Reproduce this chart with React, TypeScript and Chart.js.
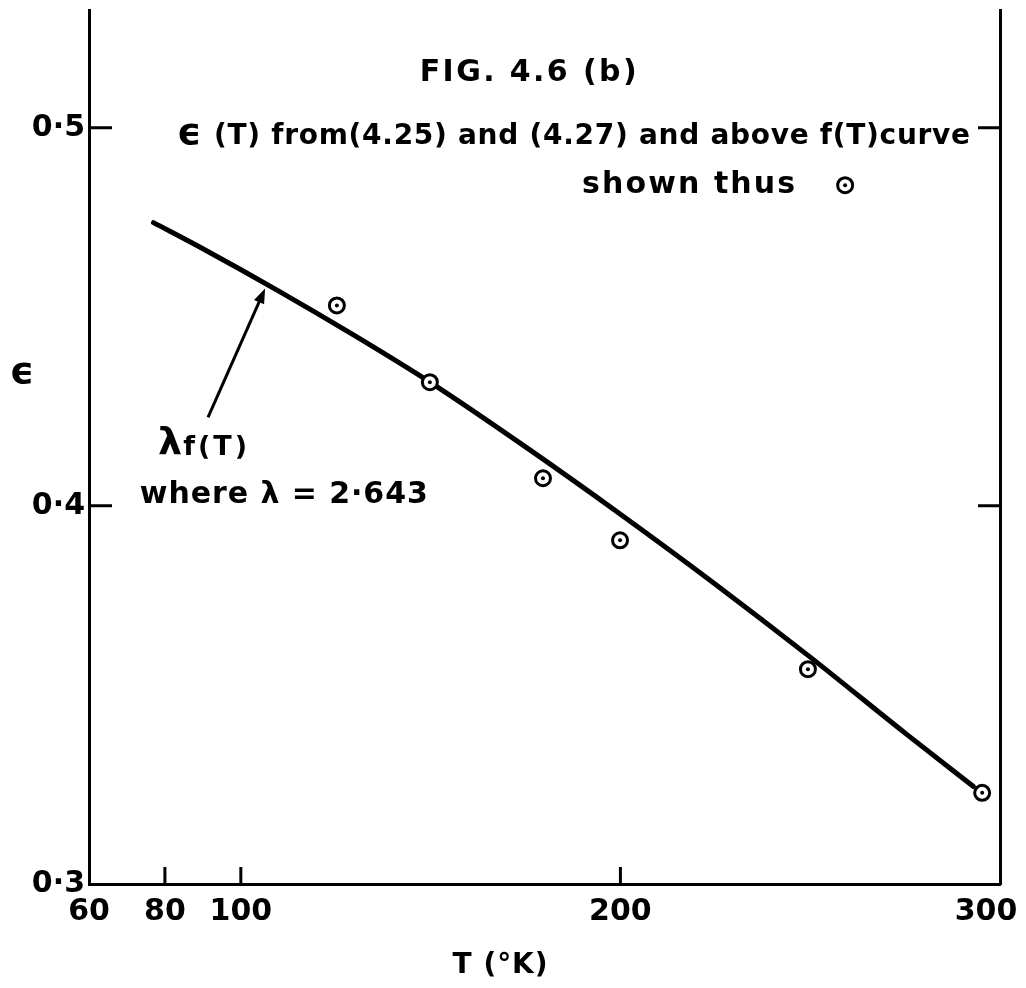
import React, { useEffect, useRef } from "react";
import { Chart, registerables } from "chart.js";

Chart.register(...registerables);

// ---------- data ----------
const xRange = [60, 300];
const yRange = [0.3, 0.531];
const xTickValues = [60, 80, 100, 200, 300];
const yTickValues = [0.3, 0.4, 0.5];
const innerXTicks = [80, 100, 200];
const innerYTicks = [0.4, 0.5];

// circled points: epsilon(T) from (4.25) and (4.27)
const pointT = [125.3, 149.8, 179.6, 199.9, 249.4, 295.3];
const pointEps = [0.453, 0.4327, 0.4073, 0.3909, 0.3568, 0.3241];

// lambda f(T) curve
const curveT = [77, 90, 110, 130, 150, 175, 200, 225, 250, 275, 293];
const curveEps = [0.4749, 0.468, 0.4568, 0.445, 0.4326, 0.4156, 0.3978, 0.3793, 0.36, 0.3399, 0.3258];

// ---------- text ----------
const titleText = "FIG. 4.6 (b)";
const epsSymbol = "ϵ";
const noteLine1 = " (T) from(4.25) and (4.27) and above f(T)curve";
const noteLine2 = "shown thus";
const lambdaSymbol = "λ";
const lambdaFn = "f(T)";
const lambdaValue = "where λ = 2·643";
const yTitle = "ϵ";
const xTitle = "T (°K)";

const FONT = '"DejaVu Sans"';
const INK = "#000";
const MARK_R = 7.5;
const MARK_W = 3;
const DOT_R = 2;

function putText(
  ctx: CanvasRenderingContext2D,
  text: string,
  px: number,
  py: number,
  size: number,
  align: CanvasTextAlign,
  width?: number,
  weight = "bold"
): number {
  ctx.font = `${weight} ${size}px ${FONT}`;
  ctx.textAlign = align;
  ctx.textBaseline = "middle";
  ctx.fillStyle = INK;
  let ls = 0;
  (ctx as any).letterSpacing = "0px";
  const w = ctx.measureText(text).width;
  if (width) {
    const n = Array.from(text).length;
    ls = (width - w) / Math.max(n - 1, 1);
  }
  (ctx as any).letterSpacing = `${ls}px`;
  const dx = align === "center" ? ls / 2 : 0;
  ctx.fillText(text, px + dx, py);
  (ctx as any).letterSpacing = "0px";
  return width || w;
}

function drawMarker(ctx: CanvasRenderingContext2D, px: number, py: number) {
  ctx.beginPath();
  ctx.arc(px, py, MARK_R, 0, Math.PI * 2);
  ctx.fillStyle = "#fff";
  ctx.fill();
  ctx.lineWidth = MARK_W;
  ctx.strokeStyle = INK;
  ctx.stroke();
  ctx.beginPath();
  ctx.arc(px, py, DOT_R, 0, Math.PI * 2);
  ctx.fillStyle = INK;
  ctx.fill();
}

const decorPlugin = {
  id: "decor",
  beforeDraw(chart: any) {
    // pull the last x label ("300") back inside the page, as in the figure
    const xs = chart.scales.x;
    const items = xs.getLabelItems ? xs.getLabelItems() : null;
    if (items && items.length) {
      const last = items[items.length - 1];
      const tr = last.options.translation;
      if (!last._shifted) {
        last.options.translation = [tr[0] - 14, tr[1]];
        last._shifted = true;
      }
    }
  },
  afterDraw(chart: any) {
    const { ctx, chartArea } = chart;
    const x = chart.scales.x;
    const y = chart.scales.y;
    const X = (v: number) => x.getPixelForValue(v);
    const Y = (v: number) => y.getPixelForValue(v);
    ctx.save();

    // inward tick marks
    ctx.strokeStyle = INK;
    ctx.lineWidth = 3;
    ctx.beginPath();
    innerYTicks.forEach((v) => {
      const py = Y(v);
      ctx.moveTo(chartArea.left, py);
      ctx.lineTo(chartArea.left + 23, py);
      ctx.moveTo(chartArea.right - 22, py);
      ctx.lineTo(chartArea.right, py);
    });
    innerXTicks.forEach((v) => {
      const px = X(v);
      ctx.moveTo(px, chartArea.bottom);
      ctx.lineTo(px, chartArea.bottom - 17);
    });
    ctx.stroke();

    // title + note
    putText(ctx, titleText, X(175.7), Y(0.5144), 30, "center", 217);
    const ew = putText(ctx, epsSymbol, X(83.2), Y(0.4982), 38, "left");
    const l1x = X(83.2) + ew + 2;
    putText(ctx, noteLine1, l1x, Y(0.4977), 28, "left", X(292.1) - l1x);
    putText(ctx, noteLine2, X(189.9), Y(0.4848), 30, "left", 213);
    drawMarker(ctx, X(259.2), Y(0.4848));

    // lambda f(T)
    const lw = putText(ctx, lambdaSymbol, X(78.2), Y(0.4163), 38, "left");
    putText(ctx, lambdaFn, X(78.2) + lw + 1, Y(0.4152), 27, "left", 64);
    putText(ctx, lambdaValue, X(73.4), Y(0.4028), 30, "left", 288);

    // axis titles
    putText(ctx, yTitle, X(42.35), Y(0.4352), 38, "center");
    putText(ctx, xTitle, X(168.3), Y(0.2783), 28, "center", 95);

    // arrow
    const tx = X(91.35), ty = Y(0.4234);
    const hx = X(106.4), hy = Y(0.4575);
    const ang = Math.atan2(hy - ty, hx - tx);
    const L = 15, W = 5.5;
    ctx.beginPath();
    ctx.lineWidth = 3;
    ctx.strokeStyle = INK;
    ctx.moveTo(tx, ty);
    ctx.lineTo(hx - Math.cos(ang) * L * 0.8, hy - Math.sin(ang) * L * 0.8);
    ctx.stroke();
    ctx.beginPath();
    ctx.moveTo(hx, hy);
    ctx.lineTo(hx - Math.cos(ang) * L - Math.sin(ang) * W, hy - Math.sin(ang) * L + Math.cos(ang) * W);
    ctx.lineTo(hx - Math.cos(ang) * L + Math.sin(ang) * W, hy - Math.sin(ang) * L - Math.cos(ang) * W);
    ctx.closePath();
    ctx.fillStyle = INK;
    ctx.fill();

    ctx.restore();
  },
};

export default function App() {
  const ref = useRef<HTMLCanvasElement | null>(null);

  useEffect(() => {
    if (!ref.current) return;
    Chart.defaults.font.family = FONT;
    Chart.defaults.color = INK;
    const pointData = pointT.map((t, i) => ({ x: t, y: pointEps[i] }));
    const curveData = curveT.map((t, i) => ({ x: t, y: curveEps[i] }));

    const chart = new Chart(ref.current, {
      type: "scatter",
      data: {
        datasets: [
          {
            label: "dots",
            data: pointData,
            pointRadius: DOT_R,
            pointBackgroundColor: INK,
            pointBorderWidth: 0,
            order: 1,
            clip: false,
          } as any,
          {
            label: "circles",
            data: pointData,
            pointRadius: MARK_R,
            pointBorderWidth: MARK_W,
            pointBorderColor: INK,
            pointBackgroundColor: "#fff",
            order: 2,
            clip: false,
          },
          {
            label: "λf(T)",
            data: curveData,
            showLine: true,
            pointRadius: 0,
            borderWidth: 5,
            borderColor: INK,
            borderCapStyle: "round",
            cubicInterpolationMode: "monotone",
            order: 3,
            clip: false,
          },
        ],
      },
      options: {
        responsive: false,
        animation: false,
        devicePixelRatio: 1,
        layout: { padding: { top: 10, right: 26, left: 0, bottom: 0 } },
        plugins: {
          legend: { display: false },
          tooltip: { enabled: false },
        },
        scales: {
          x: {
            type: "linear",
            position: "bottom",
            min: xRange[0],
            max: xRange[1],
            afterBuildTicks: (s: any) => {
              s.ticks = xTickValues.map((v) => ({ value: v }));
            },
            afterFit: (s: any) => {
              s.height = 104;
              s.paddingLeft = 0;
              s.paddingRight = 0;
            },
            ticks: {
              font: { size: 30, family: FONT, weight: "bold" },
              color: INK,
              padding: 10,
              autoSkip: false,
              maxRotation: 0,
              callback: (v: any) => String(v),
            },
            grid: { display: false, drawTicks: false },
            border: { display: true, color: INK, width: 3 },
          },
          y: {
            type: "linear",
            position: "left",
            min: yRange[0],
            max: yRange[1],
            afterBuildTicks: (s: any) => {
              s.ticks = yTickValues.map((v) => ({ value: v }));
            },
            afterFit: (s: any) => {
              s.width = 89;
              s.paddingTop = 0;
              s.paddingBottom = 0;
            },
            ticks: {
              font: { size: 30, family: FONT, weight: "bold" },
              color: INK,
              padding: 4,
              callback: (v: any) => Number(v).toFixed(1).replace(".", "·"),
            },
            grid: { display: false, drawTicks: false },
            border: { display: true, color: INK, width: 3 },
          },
          y2: {
            type: "linear",
            position: "right",
            min: yRange[0],
            max: yRange[1],
            afterFit: (s: any) => {
              s.width = 0;
              s.paddingTop = 0;
              s.paddingBottom = 0;
            },
            ticks: { display: false },
            grid: { display: false, drawTicks: false },
            border: { display: true, color: INK, width: 3 },
          },
        },
      },
      plugins: [decorPlugin],
    } as any);

    return () => chart.destroy();
  }, []);

  return (
    <div
      style={{
        position: "fixed",
        left: 0,
        top: 0,
        width: 1026,
        height: 988,
        background: "#fff",
      }}
    >
      <canvas ref={ref} width={1026} height={988} style={{ display: "block" }} />
    </div>
  );
}
